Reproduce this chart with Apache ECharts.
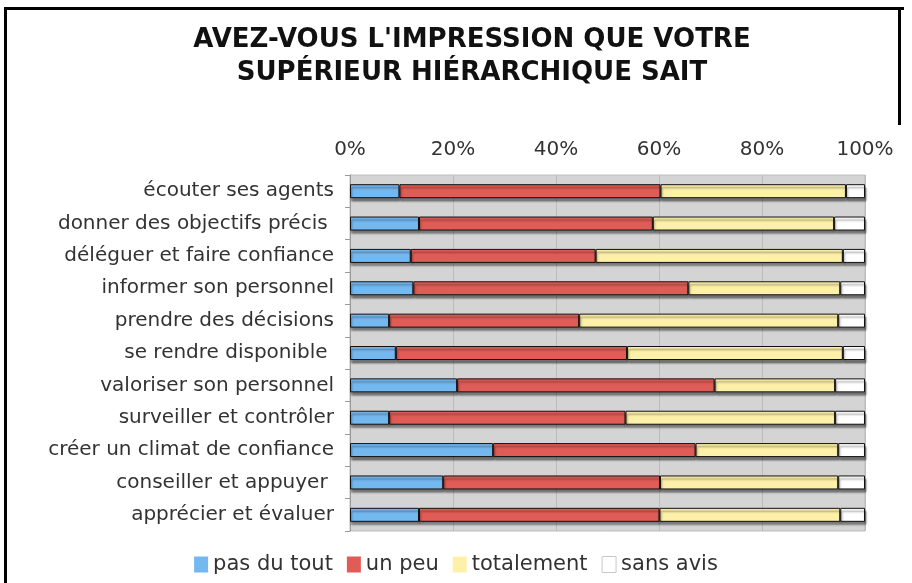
<!DOCTYPE html>
<html lang="fr">
<head>
    <meta charset="UTF-8"/>
    <title>Supérieur hiérarchique</title>
    <script src="https://cdn.jsdelivr.net/npm/echarts@6/dist/echarts.min.js"></script>
    <style>
        html, body { margin: 0; padding: 0; background: #fff; }
        #frame { position: absolute; left: 4px; top: 7px; width: 897px; height: 600px;
                 border-left: 3px solid #000; border-top: 3px solid #000; }
        #frameRight { position: absolute; left: 898px; top: 7px; width: 3px; height: 118px; background: #000; }
        #main { position: absolute; left: 0; top: 0; width: 912px; height: 583px; }
    </style>
</head>
<body>
<div id="frame"></div>
<div id="frameRight"></div>
<div id="main"></div>
<script type="text/javascript">

    var categories = ['écouter ses agents', 'donner des objectifs précis ', 'déléguer et faire confiance',
        'informer son personnel', 'prendre des décisions', 'se rendre disponible ',
        'valoriser son personnel', 'surveiller et contrôler', 'créer un climat de confiance',
        'conseiller et appuyer ', 'apprécier et évaluer'];

    var pasDuTout  = [9.6, 13.4, 11.8, 12.3, 7.6, 8.9, 20.8, 7.6, 27.8, 18.1, 13.4];
    var unPeu      = [50.7, 45.4, 35.9, 53.4, 36.9, 44.9, 50.0, 45.9, 39.3, 42.1, 46.7];
    var totalement = [36.0, 35.2, 48.0, 29.5, 50.3, 41.9, 23.4, 40.7, 27.7, 34.6, 35.1];
    var sansAvis   = [3.7, 6.0, 4.3, 4.8, 5.2, 4.3, 5.8, 5.8, 5.2, 5.2, 4.8];

    var seriesNames = ['pas du tout', 'un peu', 'totalement', 'sans avis'];
    var seriesColors = ['#74b8f0', '#e05c56', '#fdf0a8', '#ffffff'];
    var seriesValues = [pasDuTout, unPeu, totalement, sansAvis];

    var font = '"DejaVu Sans", Verdana, sans-serif';

    var myChart = echarts.init(document.getElementById('main'));

    var series = [];
    for (var i = 0; i < seriesNames.length; i++) {
        series.push({
            name: seriesNames[i],
            type: 'bar',
            stack: 'total',
            barWidth: 14,
            data: seriesValues[i],
            itemStyle: {
                color: seriesColors[i],
                borderColor: '#111',
                borderWidth: 1,
                shadowColor: 'rgba(0, 0, 0, 0.45)',
                shadowBlur: 2,
                shadowOffsetX: 1,
                shadowOffsetY: 3
            }
        });
    }

    var legendData = seriesNames.map(function (n, i) {
        return {
            name: n,
            itemStyle: i === 3
                ? { borderColor: '#c8c8c8', borderWidth: 1, shadowBlur: 0, shadowOffsetX: 0, shadowOffsetY: 0 }
                : { borderWidth: 0, shadowBlur: 0, shadowOffsetX: 0, shadowOffsetY: 0 }
        };
    });

    var option = {
        animation: false,
        title: {
            text: "AVEZ-VOUS L'IMPRESSION QUE VOTRE\nSUPÉRIEUR HIÉRARCHIQUE SAIT",
            left: 467,
            textAlign: 'center',
            top: 19,
            textStyle: { fontFamily: font, fontWeight: 'bold', fontSize: 26, lineHeight: 33, color: '#111' }
        },
        legend: {
            data: legendData,
            bottom: 3,
            left: 'center',
            icon: 'rect',
            itemWidth: 14,
            itemHeight: 16,
            itemGap: 14,
            textStyle: { fontFamily: font, fontSize: 21, color: '#333' }
        },
        grid: {
            left: 350, right: 47, top: 175, bottom: 52,
            show: true,
            backgroundColor: '#d4d4d4',
            borderColor: '#bdbdbd',
            borderWidth: 1
        },
        xAxis: {
            type: 'value',
            position: 'top',
            min: 0,
            max: 100,
            interval: 20,
            axisLine: { show: false },
            axisTick: { show: false },
            axisLabel: { formatter: '{value}%', fontFamily: font, fontSize: 20, color: '#333', margin: 15 },
            splitLine: { show: true, lineStyle: { color: '#bcbcbc', width: 1 } }
        },
        yAxis: {
            type: 'category',
            data: categories,
            inverse: true,
            axisLine: { show: true, lineStyle: { color: '#9a9a9a' } },
            axisTick: { show: true, length: 5, lineStyle: { color: '#9a9a9a' } },
            axisLabel: { fontFamily: font, fontSize: 20, color: '#333', margin: 16 }
        },
        series: series
    };

    myChart.setOption(option);
</script>
</body>
</html>
